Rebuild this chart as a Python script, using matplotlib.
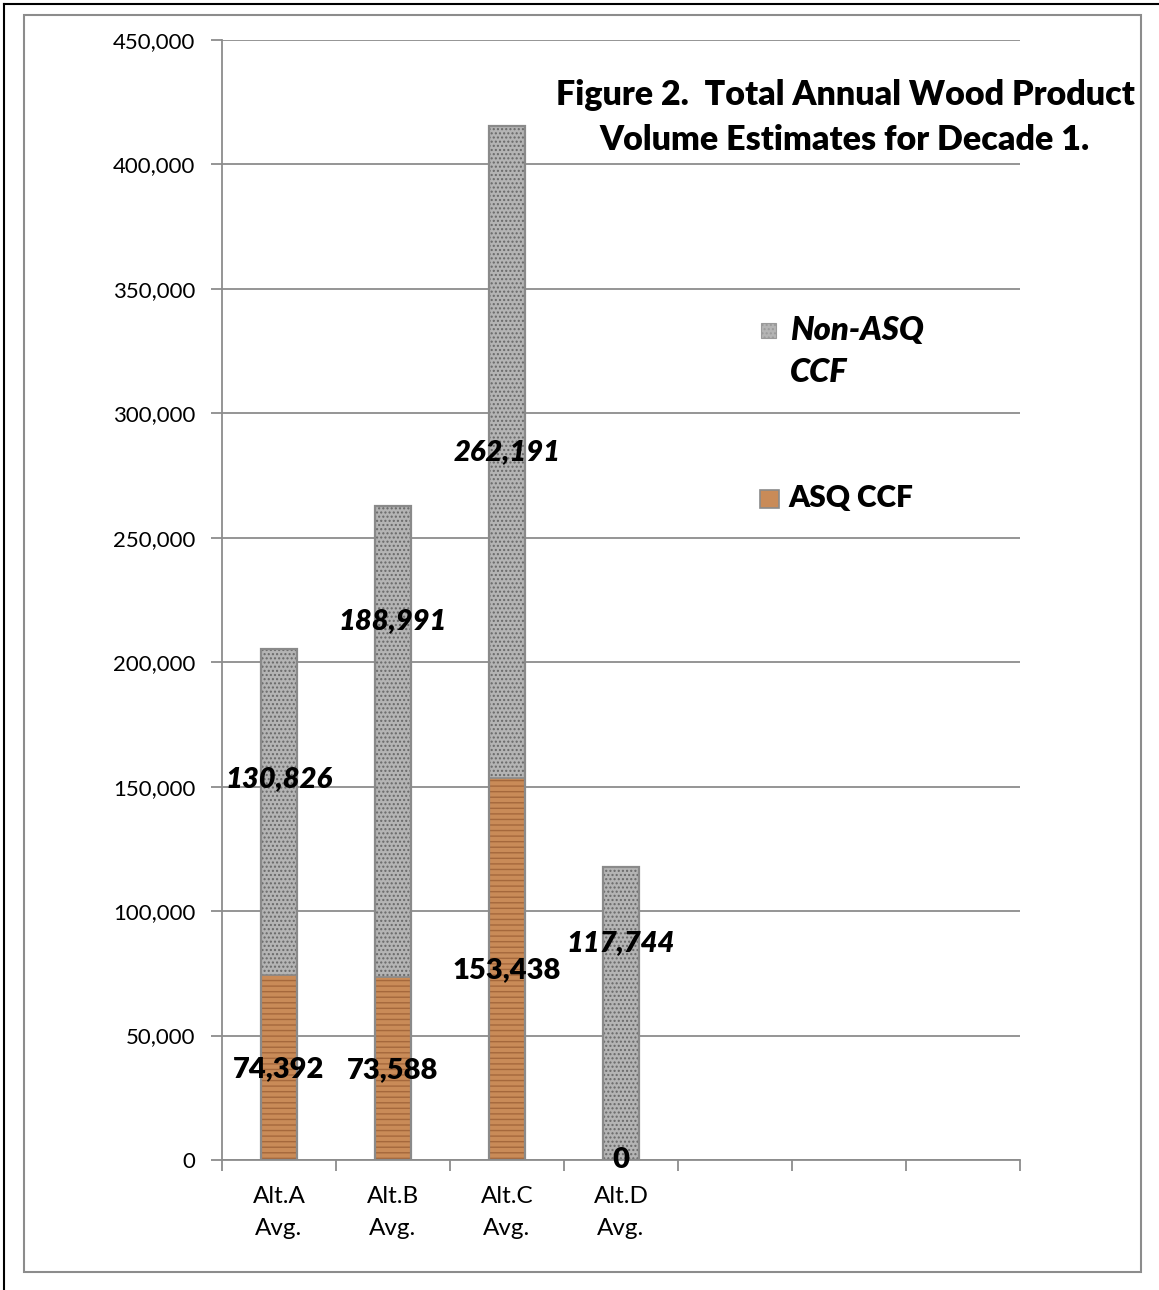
import numpy as np
import matplotlib
matplotlib.use("Agg")
import matplotlib.pyplot as plt
from matplotlib.patches import Rectangle
from matplotlib.lines import Line2D

plt.rcParams['font.family'] = ['Lato', 'DejaVu Sans']

# data
categories = ['Alt.A\nAvg.', 'Alt.B\nAvg.', 'Alt.C\nAvg.', 'Alt.D\nAvg.']
asq = [74392, 73588, 153438, 0]
non_asq = [130826, 188991, 262191, 117744]
# where the labels sit (they were moved by hand in the original)
asq_label_y = [36600, 36200, 76400, 0]
non_asq_label_y = [153200, 216700, 284500, 87300]
n_slots = 7
yticks = np.arange(0, 450001, 50000)

fig = plt.figure(figsize=(11.59, 12.9), dpi=100)
ax = fig.add_axes([222/1159, 1 - 1160/1290, (1020-222)/1159, (1160-40)/1290])

x = np.arange(len(categories))
w = 0.31
grid_c = '#8c8c8c'
heavy = 'heavy'

# wood texture (orange with grain) and granite (gray with speckle)
ax.bar(x, asq, w, color='#c98b58', edgecolor='#a5683c', hatch='---', linewidth=0, zorder=3)
ax.bar(x, non_asq, w, bottom=asq, color='#b4b4b4', edgecolor='#686868', hatch='....', linewidth=0, zorder=3)
ax.bar(x, np.add(asq, non_asq), w, fill=False, edgecolor='#8a8a8a', linewidth=1.6, zorder=4)
ax.plot([x - w/2, x + w/2], [asq, asq], color='#8a8a8a', lw=1.2, zorder=4)

for i in range(len(categories)):
    ax.text(x[i], asq_label_y[i], f'{asq[i]:,}', ha='center', va='center',
            fontsize=21, fontweight=heavy, zorder=5)
    ax.text(x[i], non_asq_label_y[i], f'{non_asq[i]:,}', ha='center', va='center',
            fontsize=21, fontweight=heavy, fontstyle='italic', zorder=5)

ax.set_xlim(-0.5, n_slots - 0.5)
ax.set_ylim(0, 450000)
ax.set_yticks(yticks)
ax.set_yticklabels([f'{v:,}' for v in yticks])
ax.yaxis.grid(True, color=grid_c, linewidth=1.3, zorder=0)
ax.set_axisbelow(True)

ax.set_xticks(np.arange(n_slots + 1) - 0.5)
ax.set_xticklabels([])
ax.set_xticks(x, minor=True)
ax.set_xticklabels(categories, minor=True, fontsize=17.5, linespacing=1.6)
ax.tick_params(axis='x', which='minor', length=0, pad=19)
ax.tick_params(axis='x', which='major', length=8, width=1.3, color=grid_c)
ax.tick_params(axis='y', length=8, width=1.3, color=grid_c, labelsize=16, pad=11)

for s in ['top', 'right']:
    ax.spines[s].set_visible(False)
for s in ['left', 'bottom']:
    ax.spines[s].set_color(grid_c)
    ax.spines[s].set_linewidth(1.3)

# title inside the plot
fig.text(845/1159, 1 - 95/1290, 'Figure 2.  Total Annual Wood Product', ha='center', va='center',
         fontsize=24.5, fontweight=heavy)
fig.text(845/1159, 1 - 140/1290, 'Volume Estimates for Decade 1.', ha='center', va='center',
         fontsize=24.5, fontweight=heavy)

# legend
fig.patches.append(Rectangle((761/1159, 1 - 338/1290), 15/1159, 15/1290, transform=fig.transFigure,
                             facecolor='#b4b4b4', edgecolor='#9a9a9a', hatch='....', lw=0.8))
fig.patches.append(Rectangle((760/1159, 1 - 508/1290), 19/1159, 18/1290, transform=fig.transFigure,
                             facecolor='#c98b58', edgecolor='#8a8a8a', lw=1.2))
fig.text(790/1159, 1 - 330/1290, 'Non-ASQ', ha='left', va='center', fontsize=23.5,
         fontweight=heavy, fontstyle='italic')
fig.text(790/1159, 1 - 372/1290, 'CCF', ha='left', va='center', fontsize=23.5,
         fontweight=heavy, fontstyle='italic')
fig.text(788/1159, 1 - 498/1290, 'ASQ CCF', ha='left', va='center', fontsize=21.5, fontweight=heavy)

# frames
fig.patches.append(Rectangle((24/1159, 1 - 1272/1290), (1141-24)/1159, (1272-15)/1290,
                             transform=fig.transFigure, fill=False, edgecolor='#8c8c8c', lw=1.5))
fig.lines.append(Line2D([4/1159, 4/1159], [0, 1 - 4/1290], transform=fig.transFigure, color='black', lw=1.5))
fig.lines.append(Line2D([4/1159, 1], [1 - 4/1290, 1 - 4/1290], transform=fig.transFigure, color='black', lw=1.5))

fig.savefig('out.png', dpi=100)
